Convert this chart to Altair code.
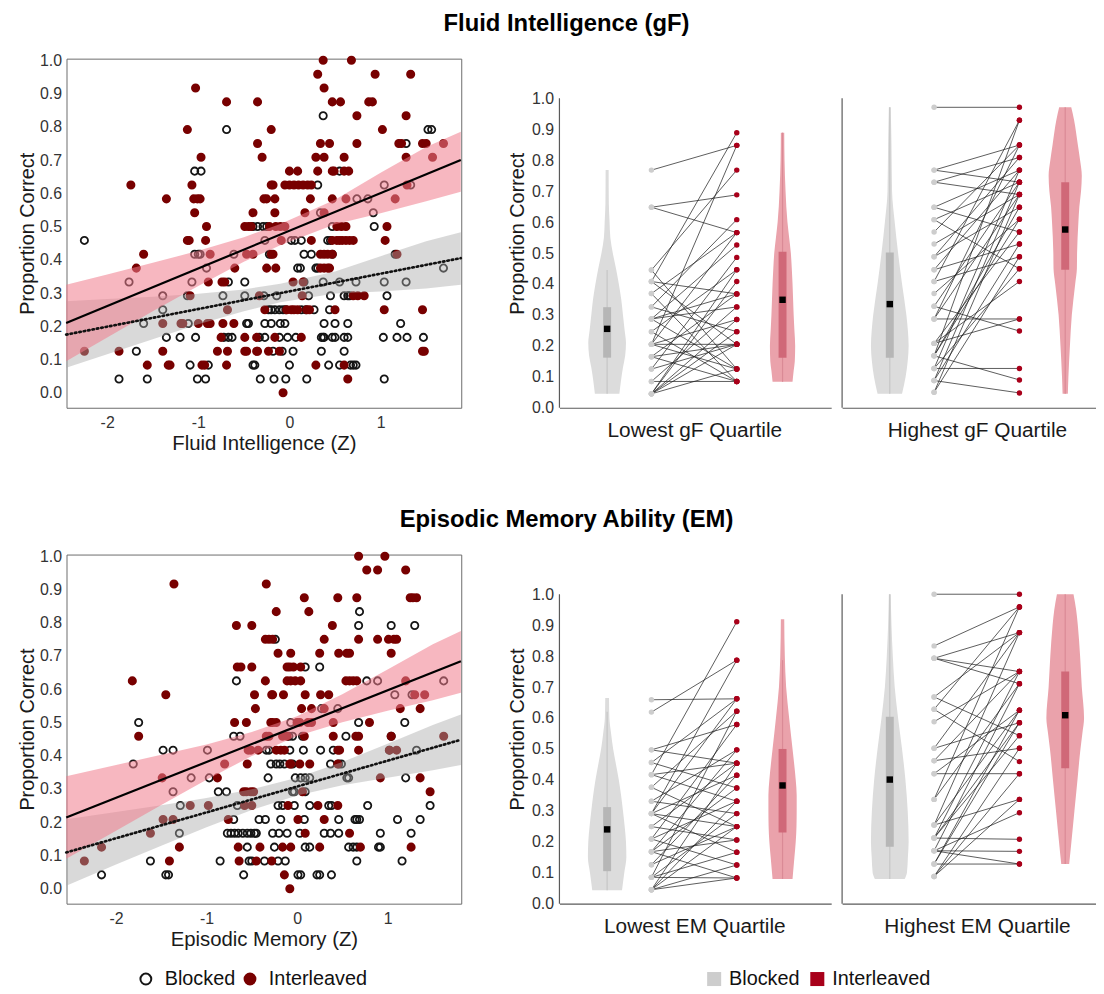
import altair as alt
import pandas as pd

FONT = "Liberation Sans"
N_ITEMS = 24
CONDS = ["Blocked", "Interleaved"]
Y_TICKS = [0.0, 0.1, 0.2, 0.3, 0.4, 0.5, 0.6, 0.7, 0.8, 0.9, 1.0]
Z_TICKS = [-2, -1, 0, 1]

# ------------------------------------------------------------------
# Scatter data: (items correct out of 24, [Z scores of participants])
# ------------------------------------------------------------------
gf_blocked_rows = [
    (20, [0.37]),
    (19, [-0.69, 1.52, 1.56]),
    (18, [1.28]),
    (16, [-1.04, -0.97, 0.55]),
    (15, [0.31, 1.04, 1.33]),
    (14, [0.74, 0.86]),
    (13, [0.34, 0.92]),
    (12, [-0.40, -0.35, -0.29, -0.25, 0.47, 0.93]),
    (11, [-2.25, -0.27, 0.02, 0.06, 0.13, 0.42, 0.45]),
    (10, [-1.04, -1.00, -0.98, -0.61, -0.22, 0.16, 0.24, 0.47, 1.16]),
    (9, [-0.91, 0.09, 0.12, 0.29, 0.31, 1.69]),
    (8, [-1.76, -1.07, -0.67, -0.49, 0.16, 0.37, 0.55, 0.73, 1.04, 1.28]),
    (7, [-1.39, -1.12, -0.73, -0.49, -0.28, -0.14, 0.21, 0.45, 0.60, 0.64, 0.66, 1.07]),
    (6, [-1.39, -0.23, -0.20, -0.16, -0.11, -0.07, -0.04, 0.13, 0.18, 0.27, 0.44]),
    (5, [-1.60, -1.11, -0.47, -0.45, -0.27, -0.20, -0.10, -0.05, 0.38, 0.50, 0.64, 1.22]),
    (4, [-1.35, -1.20, -1.03, -0.72, -0.67, -0.63, -0.33, -0.27, -0.11, -0.02, 0.07,
         0.35, 0.37, 0.38, 0.47, 0.50, 0.60, 0.64, 1.03, 1.18, 1.29, 1.47]),
    (3, [-1.68, -0.18, -0.08, 0.04, 0.35, 0.60]),
    (2, [-1.09, -0.89, -0.40, -0.38, 0.00, 0.43, 0.55, 0.67, 0.70, 0.73]),
    (1, [-1.87, -1.56, -1.01, -0.92, -0.32, -0.17, -0.04, 0.19, 1.04]),
]
gf_inter_rows = [
    (24, [0.37, 0.68]),
    (23, [0.31, 0.94, 1.33]),
    (22, [-1.03, 0.38]),
    (21, [-0.69, -0.35, 0.47, 0.56, 0.87, 0.91]),
    (20, [0.74, 1.28]),
    (19, [-1.12, -0.20, 1.02]),
    (18, [-0.35, 0.34, 0.44, 0.74, 1.20, 1.23, 1.46, 1.50, 1.69]),
    (17, [-0.97, -0.30, 0.29, 0.38, 0.60, 1.28, 1.57]),
    (16, [0.00, 0.09, 0.31, 0.47, 0.49, 0.60, 0.65]),
    (15, [-1.74, -1.07, -0.20, -0.18, -0.05, 0.00, 0.05, 0.10, 0.15, 0.20, 0.24, 1.29]),
    (14, [-1.35, -1.05, -1.01, -0.98, -0.28, -0.25, -0.16, 0.23, 0.47, 0.62, 1.16]),
    (13, [-1.04, -0.40, -0.16, 0.17, 0.38]),
    (12, [-0.91, -0.49, -0.45, -0.42, -0.22, -0.15, -0.10, -0.05, 0.52, 0.57, 0.62, 1.07]),
    (11, [-1.12, -1.10, -0.92, -0.09, 0.24, 0.47, 0.52, 0.55, 0.58, 0.62, 0.66, 0.70, 1.05]),
    (10, [-1.60, -0.87, -0.47, -0.40, -0.20, -0.18, 0.34, 0.38, 0.42, 0.47, 1.18]),
    (9, [-1.68, -0.60, -0.25, -0.15, 0.34, 0.38, 0.42, 0.44]),
    (8, [-0.89, -0.74, -0.71, 0.04, 0.15]),
    (7, [-1.09, -0.33, 0.14, 0.70, 0.75, 0.82]),
    (6, [-0.68, -0.27, -0.03, 0.02, 0.05, 0.09, 0.19, 0.22, 0.50, 1.04, 1.46]),
    (5, [-1.39, -1.19, -1.17, -1.00, -0.90, -0.87, -0.73, -0.61]),
    (4, [-0.75, -0.49, -0.36, -0.16, 0.13]),
    (3, [-2.25, -1.87, -1.39, -0.79, -0.68, -0.49, -0.47, -0.36, -0.35, -0.23, -0.11, 1.46, 1.48]),
    (2, [-1.56, -1.33, -1.31, -0.96, -0.93, -0.69, 0.29, 0.60]),
    (1, [0.64]),
    (0, [-0.07]),
]
gf_fit_z = [-2.45, 1.88]
gf_fit_blocked = [0.175, 0.405]
gf_fit_inter = [0.210, 0.700]
gf_band_z = [-2.45, -2.0, -1.5, -1.0, -0.5, -0.1, 0.5, 1.0, 1.5, 1.88]
gf_band_inter_lo = [0.095, 0.166, 0.245, 0.321, 0.394, 0.444, 0.507, 0.540, 0.576, 0.605]
gf_band_inter_hi = [0.325, 0.356, 0.391, 0.427, 0.468, 0.508, 0.581, 0.662, 0.739, 0.785]
gf_band_blocked_lo = [0.075, 0.116, 0.161, 0.206, 0.245, 0.272, 0.299, 0.305, 0.314, 0.325]
gf_band_blocked_hi = [0.275, 0.282, 0.289, 0.298, 0.311, 0.328, 0.365, 0.411, 0.456, 0.483]

em_blocked_rows = [
    (20, [0.69]),
    (19, [0.68, 1.04, 1.30]),
    (18, [-0.24]),
    (16, [0.09, 0.25]),
    (15, [-0.67, 0.77, 0.89, 1.62]),
    (14, [1.08, 1.27]),
    (13, [0.27, 0.45]),
    (12, [-1.75, -0.07, 0.68, 1.19]),
    (11, [-0.70, -0.63, -0.09, -0.05, 0.06, 0.54, 1.04]),
    (10, [-1.48, -1.37, -0.99, -0.34, -0.31, -0.08, 0.07, 0.26, 0.40, 1.02, 1.32]),
    (9, [-1.81, -0.29, -0.23, -0.19, -0.14, -0.05, 0.37, 0.46, 0.49]),
    (8, [-1.17, -0.97, -0.32, -0.02, 0.04, 0.09, 0.14, 0.55, 0.57, 1.20]),
    (7, [-1.37, -0.87, -0.78, -0.05, -0.03, 0.09]),
    (6, [-1.29, -0.66, -0.21, -0.16, -0.03, 0.14, 0.35, 0.38, 0.78, 1.47]),
    (5, [-0.70, -0.42, -0.35, -0.18, 0.08, 0.46, 0.64, 0.66, 0.69, 1.11, 1.36]),
    (4, [-1.30, -0.77, -0.73, -0.69, -0.65, -0.60, -0.55, -0.51, -0.47, -0.45, -0.27,
         -0.20, -0.11, 0.03, 0.30, 0.37, 0.46, 0.92, 1.26]),
    (3, [-0.55, -0.25, 0.09, 0.14, 0.57, 0.62, 0.66, 0.90, 0.92]),
    (2, [-1.62, -0.85, -0.53, -0.50, -0.36, -0.21, -0.13, 0.66, 1.16]),
    (1, [-2.16, -1.45, -1.42, -0.59, 0.01, 0.04, 0.22, 0.25, 0.38]),
]
em_inter_rows = [
    (24, [0.68, 0.97]),
    (23, [0.77, 0.89, 1.20]),
    (22, [-1.36, -0.34]),
    (21, [0.08, 0.45, 0.66, 1.25, 1.28, 1.32]),
    (20, [-0.23, 0.13]),
    (19, [-0.67, -0.50, 0.39]),
    (18, [-0.35, -0.31, -0.27, 0.30, 0.68, 0.89, 1.01, 1.07, 1.10]),
    (17, [-0.21, -0.07, 0.25, 0.46, 0.55, 0.58, 1.04]),
    (16, [-0.66, -0.62, -0.50, -0.11, -0.08, -0.04, 0.04]),
    (15, [-1.82, -0.35, -0.11, -0.07, -0.02, 0.04, 0.54, 0.58, 0.62, 0.66, 1.20]),
    (14, [-1.45, -0.47, -0.28, -0.27, -0.15, 0.09, 0.26, 0.35, 1.30, 1.41]),
    (13, [-0.46, 0.05, 0.16, 0.30, 1.14, 1.36]),
    (12, [-0.69, -0.56, -0.29, -0.27, -0.23, 0.00, 0.03, 0.12, 0.16, 0.40, 0.80]),
    (11, [-1.75, -0.34, -0.31, -0.16, -0.11, 0.08, 0.40, 0.65, 0.68, 1.04, 1.62]),
    (10, [-0.54, -0.51, -0.43, -0.23, -0.18, -0.14, 0.45, 0.47, 0.68, 1.02, 1.10]),
    (9, [-0.80, -0.55, -0.08, -0.07, 0.03, 0.14, 0.45]),
    (8, [-1.49, -0.88, 0.92, 1.36]),
    (7, [-0.59, -0.56, -0.51, -0.48, 0.06, 1.47]),
    (6, [-1.18, -0.98, -0.58, -0.50, -0.10, 0.23, 0.45]),
    (5, [-1.48, -1.37, -0.76, 0.01, 0.30]),
    (4, [-1.62, 0.09, 0.58]),
    (3, [-2.16, -1.30, -0.65, -0.41, -0.16, -0.07, 0.25, 0.70, 1.26]),
    (2, [-2.35, -1.41, -0.64, -0.45, -0.28]),
    (1, [-0.14]),
    (0, [-0.08]),
]
em_fit_z = [-2.55, 1.81]
em_fit_blocked = [0.109, 0.448]
em_fit_inter = [0.214, 0.684]
em_band_z = [-2.55, -2.0, -1.5, -1.0, -0.5, 0.0, 0.5, 1.0, 1.5, 1.81]
em_band_inter_lo = [0.090, 0.174, 0.252, 0.328, 0.399, 0.459, 0.501, 0.535, 0.567, 0.589]
em_band_inter_hi = [0.338, 0.372, 0.403, 0.434, 0.471, 0.519, 0.585, 0.659, 0.735, 0.775]
em_band_blocked_lo = [0.009, 0.073, 0.129, 0.185, 0.237, 0.280, 0.311, 0.334, 0.356, 0.372]
em_band_blocked_hi = [0.209, 0.231, 0.251, 0.273, 0.299, 0.334, 0.381, 0.436, 0.492, 0.524]

# ------------------------------------------------------------------
# Quartile panels: paired scores (same order in both lists)
# ------------------------------------------------------------------
gf_low_blocked = [0.768, 0.648, 0.648, 0.445, 0.445, 0.408, 0.408, 0.408, 0.369, 0.369,
                  0.326, 0.326, 0.287, 0.287, 0.287, 0.287, 0.246, 0.246, 0.205, 0.205,
                  0.205, 0.205, 0.205, 0.165, 0.165, 0.165, 0.125, 0.125, 0.085, 0.085,
                  0.045, 0.045, 0.045, 0.045, 0.045, 0.045]
gf_low_inter = [0.848, 0.688, 0.566, 0.768, 0.125, 0.889, 0.368, 0.205, 0.566, 0.085,
                0.608, 0.246, 0.526, 0.368, 0.125, 0.326, 0.446, 0.085, 0.848, 0.205,
                0.285, 0.125, 0.566, 0.368, 0.205, 0.085, 0.486, 0.205, 0.085, 0.326,
                0.446, 0.408, 0.285, 0.246, 0.205, 0.125]
gf_high_blocked = [0.971, 0.768, 0.768, 0.729, 0.729, 0.648, 0.648, 0.608, 0.608, 0.568,
                   0.529, 0.488, 0.488, 0.446, 0.446, 0.408, 0.408, 0.369, 0.328, 0.328,
                   0.287, 0.287, 0.287, 0.208, 0.208, 0.208, 0.168, 0.168, 0.168, 0.168,
                   0.127, 0.127, 0.127, 0.088, 0.088, 0.088, 0.050, 0.050]
gf_high_inter = [0.971, 0.729, 0.849, 0.809, 0.689, 0.568, 0.768, 0.449, 0.729, 0.849,
                 0.689, 0.809, 0.648, 0.529, 0.768, 0.929, 0.488, 0.609, 0.729, 0.248,
                 0.287, 0.689, 0.849, 0.408, 0.568, 0.287, 0.929, 0.609, 0.090, 0.648,
                 0.127, 0.449, 0.768, 0.048, 0.729, 0.529, 0.488, 0.689]
em_low_blocked = [0.659, 0.619, 0.497, 0.497, 0.456, 0.456, 0.417, 0.417, 0.417, 0.376,
                  0.376, 0.331, 0.331, 0.291, 0.291, 0.291, 0.291, 0.291, 0.249, 0.249,
                  0.209, 0.209, 0.209, 0.168, 0.168, 0.168, 0.168, 0.126, 0.126, 0.085,
                  0.085, 0.085, 0.085, 0.045, 0.045, 0.045, 0.045, 0.045]
em_low_inter = [0.662, 0.787, 0.454, 0.579, 0.662, 0.374, 0.911, 0.331, 0.454, 0.622,
                0.249, 0.497, 0.291, 0.787, 0.415, 0.249, 0.166, 0.662, 0.454, 0.206,
                0.579, 0.331, 0.125, 0.497, 0.206, 0.083, 0.374, 0.415, 0.249, 0.291,
                0.083, 0.622, 0.166, 0.454, 0.331, 0.249, 0.125, 0.083]
em_high_blocked = [1.000, 0.833, 0.793, 0.793, 0.793, 0.668, 0.668, 0.628, 0.628, 0.588,
                   0.502, 0.502, 0.462, 0.462, 0.420, 0.420, 0.337, 0.337, 0.254, 0.254,
                   0.254, 0.212, 0.212, 0.212, 0.212, 0.171, 0.171, 0.171, 0.171, 0.128,
                   0.128, 0.128, 0.088, 0.088, 0.088]
em_high_inter = [1.000, 0.959, 0.876, 0.750, 0.711, 0.876, 0.543, 0.459, 0.959, 0.750,
                 0.585, 0.876, 0.502, 0.750, 0.420, 0.625, 0.959, 0.711, 0.337, 0.876,
                 0.625, 0.208, 0.543, 0.585, 0.750, 0.169, 0.128, 0.294, 0.711, 0.128,
                 0.625, 0.585, 0.502, 0.337, 0.420]

# violin outlines: score levels and relative density (1 = widest gray violin)
gf_low_vb_level = [0.768, 0.66, 0.60, 0.55, 0.50, 0.45, 0.40, 0.35, 0.30, 0.25, 0.21, 0.17, 0.13, 0.09, 0.045]
gf_low_vb_dens = [0.08, 0.09, 0.13, 0.17, 0.30, 0.47, 0.62, 0.75, 0.84, 0.93, 1.00, 0.96, 0.84, 0.74, 0.65]
gf_low_vi_level = [0.889, 0.80, 0.70, 0.60, 0.55, 0.50, 0.45, 0.40, 0.35, 0.30, 0.25, 0.20, 0.15, 0.12, 0.084]
gf_low_vi_dens = [0.09, 0.105, 0.16, 0.26, 0.35, 0.44, 0.49, 0.53, 0.56, 0.59, 0.63, 0.67, 0.65, 0.59, 0.53]
gf_high_vb_level = [0.971, 0.85, 0.70, 0.60, 0.50, 0.40, 0.30, 0.25, 0.20, 0.15, 0.10, 0.045]
gf_high_vb_dens = [0.05, 0.09, 0.12, 0.26, 0.44, 0.65, 0.88, 0.96, 1.00, 0.95, 0.84, 0.65]
gf_high_vi_level = [0.971, 0.93, 0.85, 0.80, 0.75, 0.70, 0.65, 0.60, 0.50, 0.45, 0.40, 0.30, 0.20, 0.10, 0.045]
gf_high_vi_dens = [0.32, 0.47, 0.67, 0.79, 0.88, 0.84, 0.75, 0.70, 0.63, 0.62, 0.53, 0.35, 0.25, 0.17, 0.14]
em_low_vb_level = [0.665, 0.60, 0.55, 0.50, 0.45, 0.40, 0.35, 0.30, 0.25, 0.20, 0.15, 0.10, 0.043]
em_low_vb_dens = [0.10, 0.12, 0.21, 0.32, 0.47, 0.62, 0.74, 0.84, 0.93, 1.00, 1.02, 0.91, 0.79]
em_low_vi_level = [0.919, 0.80, 0.70, 0.60, 0.50, 0.45, 0.40, 0.35, 0.30, 0.25, 0.20, 0.15, 0.08]
em_low_vi_dens = [0.09, 0.12, 0.19, 0.35, 0.53, 0.62, 0.70, 0.75, 0.75, 0.74, 0.70, 0.63, 0.53]
em_high_vb_level = [1.00, 0.90, 0.80, 0.70, 0.60, 0.50, 0.40, 0.30, 0.20, 0.15, 0.10, 0.08]
em_high_vb_dens = [0.05, 0.09, 0.16, 0.26, 0.44, 0.65, 0.83, 0.95, 1.00, 0.96, 0.91, 0.79]
em_high_vi_level = [1.00, 0.95, 0.90, 0.80, 0.70, 0.60, 0.55, 0.50, 0.40, 0.30, 0.20, 0.128]
em_high_vi_dens = [0.44, 0.58, 0.67, 0.79, 0.88, 1.00, 0.91, 0.81, 0.65, 0.49, 0.33, 0.21]

# box summaries: [q1, q3, centre square, whisker low, whisker high]
gf_low_box_blocked = [0.162, 0.325, 0.255, 0.045, 0.445]
gf_low_box_inter = [0.162, 0.504, 0.349, 0.084, 0.889]
gf_high_box_blocked = [0.162, 0.502, 0.335, 0.045, 0.971]
gf_high_box_inter = [0.446, 0.729, 0.576, 0.045, 0.971]
em_low_box_blocked = [0.105, 0.312, 0.240, 0.043, 0.620]
em_low_box_inter = [0.230, 0.500, 0.382, 0.080, 0.787]
em_high_box_blocked = [0.184, 0.604, 0.401, 0.080, 1.000]
em_high_box_inter = [0.438, 0.750, 0.609, 0.128, 1.000]

# ------------------------------------------------------------------
# Styling / layout constants
# ------------------------------------------------------------------
AXIS_COLOR = "#5a5a5a"
SC_W, SC_H = 398, 352
SC_YDOM = [-0.045, 1.005]
V_W1, V_W2 = 274, 256
V_H = 352
V_YMAX = V_H / 312.0
POS_VB, POS_DB, POS_DI, POS_VI = 0.1755, 0.3385, 0.6525, 0.821
VIOLIN_W = 19.0 / 274.0
BOX_HW = 4.0 / 274.0
GRAY_V, GRAY_BOX, GRAY_WH = "#dcdcdc", "#b6b6b6", "#c6c6c6"
RED_V, RED_BOX, RED_WH = "#eaa2ab", "#d06878", "#da8a96"

SC_LEGEND = alt.Legend(title=None, orient="none", legendX=70, legendY=918, direction="horizontal",
                       labelFontSize=20, labelFont=FONT, labelColor="#111", symbolSize=120,
                       symbolStrokeWidth=2, labelOffset=9, columnPadding=4, symbolType="circle")
DOT_LEGEND = alt.Legend(title=None, orient="none", legendX=643, legendY=918, direction="horizontal",
                        labelFontSize=20, labelFont=FONT, labelColor="#111", symbolSize=200,
                        symbolType="square", labelOffset=5, columnPadding=7, symbolStrokeWidth=0)


def flatten(blocked_rows, inter_rows):
    z, p, cond = [], [], []
    for c, rows in (("Blocked", blocked_rows), ("Interleaved", inter_rows)):
        for k, zs in rows:
            for v in zs:
                z.append(v)
                p.append(k / N_ITEMS)
                cond.append(c)
    return pd.DataFrame({"z": z, "p": p, "Condition": cond})


def scatter(b_rows, i_rows, fit_z, fit_b, fit_i, band_z, ilo, ihi, blo, bhi, xdom, xtitle):
    pts = flatten(b_rows, i_rows)
    band = pd.DataFrame({"z": band_z, "ilo": ilo, "ihi": ihi, "blo": blo, "bhi": bhi})
    fit = pd.DataFrame({"z": fit_z, "b": fit_b, "i": fit_i})
    xs = alt.Scale(domain=xdom, nice=False, zero=False)
    ys = alt.Scale(domain=SC_YDOM, nice=False, zero=False)
    xax = alt.Axis(title=xtitle, values=Z_TICKS, ticks=False, domain=False, grid=False,
                   labelPadding=7, titlePadding=3, titleFontSize=20.5,
                   labelExpr="datum.value < 0 ? '-' + abs(datum.value) : '' + datum.value")
    yax = alt.Axis(title="Proportion Correct", values=Y_TICKS, format=".1f", ticks=False,
                   domain=False, grid=False, labelPadding=5, titlePadding=2)
    X = alt.X("z:Q", scale=xs, axis=xax)
    points = alt.Chart(pts).mark_point(shape="circle", size=54, strokeWidth=1.8, opacity=1).encode(
        x=X,
        y=alt.Y("p:Q", scale=ys, axis=yax),
        stroke=alt.Stroke("Condition:N", scale=alt.Scale(domain=CONDS, range=["#151515", "#780000"]),
                          legend=SC_LEGEND),
        fill=alt.Fill("Condition:N", scale=alt.Scale(domain=CONDS, range=["transparent", "#780000"]),
                      legend=SC_LEGEND),
    )
    gray_band = alt.Chart(band).mark_area(color="#a9a9a9", opacity=0.44).encode(
        x=X, y=alt.Y("blo:Q", scale=ys, axis=yax), y2="bhi:Q")
    pink_band = alt.Chart(band).mark_area(color="#f07c8c", opacity=0.55).encode(
        x=X, y=alt.Y("ilo:Q", scale=ys, axis=yax), y2="ihi:Q")
    line_b = alt.Chart(fit).mark_line(color="#111111", strokeWidth=2.7, strokeDash=[1.5, 3],
                                      strokeCap="round").encode(x=X, y=alt.Y("b:Q", scale=ys, axis=yax))
    line_i = alt.Chart(fit).mark_line(color="#000000", strokeWidth=2.2).encode(
        x=X, y=alt.Y("i:Q", scale=ys, axis=yax))
    return alt.layer(points, gray_band, pink_band, line_b, line_i).properties(
        width=SC_W, height=SC_H, view=alt.ViewBackground(stroke="#6b6b6b", strokeWidth=1))


def violin_panel(blocked, inter, vb_lv, vb_d, vi_lv, vi_d, box_b, box_i, xtitle, first, width):
    xmax = width / float(V_W1)
    xs = alt.Scale(domain=[0, xmax], nice=False, zero=False)
    ys = alt.Scale(domain=[0, V_YMAX], nice=False, zero=False)
    xax = alt.Axis(title=xtitle, labels=False, ticks=False, grid=False, domain=True,
                   domainColor=AXIS_COLOR, domainWidth=1.2, titlePadding=12, titleX=136,
                   titleFontSize=21)
    if first:
        yax = alt.Axis(title="Proportion Correct", values=Y_TICKS, format=".1f", ticks=False,
                       domain=False, grid=False, labelPadding=6, titlePadding=4)
    else:
        yax = None

    axis_line = alt.Chart(pd.DataFrame({"a": [0.0], "b": [1.0]})).mark_rule(
        color=AXIS_COLOR, strokeWidth=1.2).encode(
        x=alt.value(0), y=alt.Y("a:Q", scale=ys, axis=yax), y2="b:Q")

    def violin(levels, dens, centre, colour):
        df = pd.DataFrame({"lv": levels, "d": dens}).sort_values("lv")
        return alt.Chart(df).transform_calculate(
            xl=f"{centre} - datum.d * {VIOLIN_W}", xr=f"{centre} + datum.d * {VIOLIN_W}"
        ).mark_area(orient="horizontal", color=colour, interpolate="monotone").encode(
            y=alt.Y("lv:Q", scale=ys, axis=yax), x=alt.X("xl:Q", scale=xs, axis=xax), x2="xr:Q")

    def box(stats, centre, box_col, wh_col):
        df = pd.DataFrame({"q1": [stats[0]], "q3": [stats[1]], "m": [stats[2]],
                           "lo": [stats[3]], "hi": [stats[4]]})
        base = alt.Chart(df).transform_calculate(
            c=f"{centre}", bl=f"{centre} - {BOX_HW}", br=f"{centre} + {BOX_HW}")
        wh = base.mark_rule(color=wh_col, strokeWidth=1.2).encode(
            x=alt.X("c:Q", scale=xs, axis=xax), y=alt.Y("lo:Q", scale=ys, axis=yax), y2="hi:Q")
        bx = base.mark_rect(color=box_col).encode(
            x=alt.X("bl:Q", scale=xs, axis=xax), x2="br:Q",
            y=alt.Y("q1:Q", scale=ys, axis=yax), y2="q3:Q")
        sq = base.mark_square(size=42, color="black", opacity=1).encode(
            x=alt.X("c:Q", scale=xs, axis=xax), y=alt.Y("m:Q", scale=ys, axis=yax))
        return [wh, bx, sq]

    n = len(blocked)
    pairs = pd.DataFrame({
        "pid": list(range(n)) + list(range(n)),
        "pos": [POS_DB] * n + [POS_DI] * n,
        "val": blocked + inter,
        "Group": ["Blocked"] * n + ["Interleaved"] * n,
    })
    lines = alt.Chart(pairs).mark_line(color="#1e1e1e", strokeWidth=0.8, opacity=0.9).encode(
        x=alt.X("pos:Q", scale=xs, axis=xax), y=alt.Y("val:Q", scale=ys, axis=yax), detail="pid:N")
    dots = alt.Chart(pairs).mark_circle(size=30, opacity=1).encode(
        x=alt.X("pos:Q", scale=xs, axis=xax), y=alt.Y("val:Q", scale=ys, axis=yax),
        color=alt.Color("Group:N", scale=alt.Scale(range=["#cdcdcd", "#a8001a"]), legend=DOT_LEGEND))

    layers = [axis_line,
              violin(vb_lv, vb_d, POS_VB, GRAY_V),
              violin(vi_lv, vi_d, POS_VI, RED_V)]
    layers += box(box_b, POS_VB, GRAY_BOX, GRAY_WH)
    layers += box(box_i, POS_VI, RED_BOX, RED_WH)
    layers += [lines, dots]
    return alt.layer(*layers).properties(width=width, height=V_H)


sc1 = scatter(gf_blocked_rows, gf_inter_rows, gf_fit_z, gf_fit_blocked, gf_fit_inter, gf_band_z,
              gf_band_inter_lo, gf_band_inter_hi, gf_band_blocked_lo, gf_band_blocked_hi,
              [-2.446, 1.885], "Fluid Intelligence (Z)")
sc2 = scatter(em_blocked_rows, em_inter_rows, em_fit_z, em_fit_blocked, em_fit_inter, em_band_z,
              em_band_inter_lo, em_band_inter_hi, em_band_blocked_lo, em_band_blocked_hi,
              [-2.547, 1.814], "Episodic Memory (Z)")

v1a = violin_panel(gf_low_blocked, gf_low_inter, gf_low_vb_level, gf_low_vb_dens, gf_low_vi_level,
                   gf_low_vi_dens, gf_low_box_blocked, gf_low_box_inter, "Lowest gF Quartile", True, V_W1)
v1b = violin_panel(gf_high_blocked, gf_high_inter, gf_high_vb_level, gf_high_vb_dens, gf_high_vi_level,
                   gf_high_vi_dens, gf_high_box_blocked, gf_high_box_inter, "Highest gF Quartile", False, V_W2)
v2a = violin_panel(em_low_blocked, em_low_inter, em_low_vb_level, em_low_vb_dens, em_low_vi_level,
                   em_low_vi_dens, em_low_box_blocked, em_low_box_inter, "Lowest EM Quartile", True, V_W1)
v2b = violin_panel(em_high_blocked, em_high_inter, em_high_vb_level, em_high_vb_dens, em_high_vi_level,
                   em_high_vi_dens, em_high_box_blocked, em_high_box_inter, "Highest EM Quartile", False, V_W2)


def row_title(text):
    return alt.TitleParams(text, fontSize=24, fontWeight="bold", font=FONT, color="#000000",
                           anchor="middle", offset=16, dx=10)


row1 = alt.hconcat(sc1, alt.hconcat(v1a, v1b, spacing=10), spacing=40,
                   title=row_title("Fluid Intelligence (gF)"))
row2 = alt.hconcat(sc2, alt.hconcat(v2a, v2b, spacing=10), spacing=40,
                   title=row_title("Episodic Memory Ability (EM)"))

chart = alt.vconcat(row1, row2, spacing=54).properties(
    padding={"left": 9, "top": 0, "right": 0, "bottom": 0}
).configure(font=FONT).configure_view(stroke=None).configure_axis(
    labelFont=FONT, titleFont=FONT, labelFontSize=16, titleFontSize=20, titleFontWeight="normal",
    labelColor="#333333", titleColor="#1a1a1a"
)

chart.save("out.html", embed_options={"renderer": "svg", "actions": False})
